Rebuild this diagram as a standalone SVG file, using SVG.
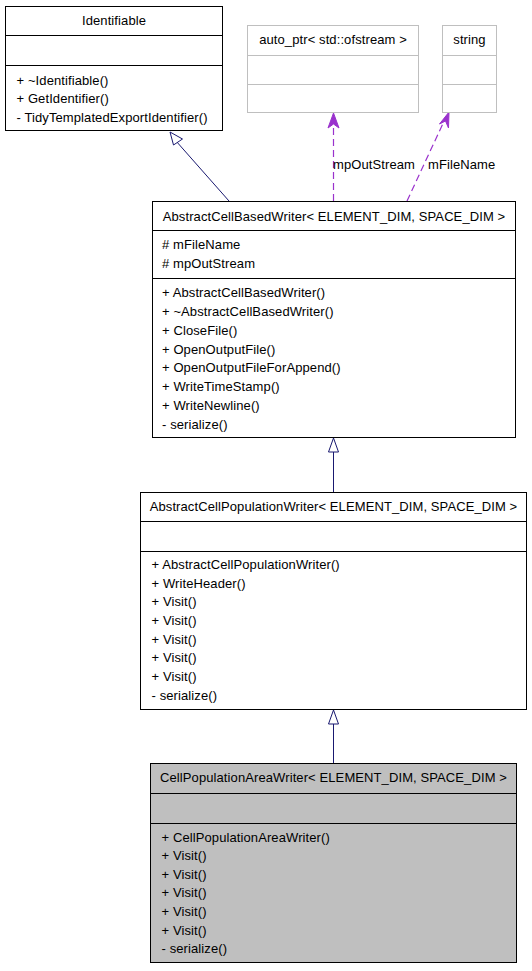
<svg xmlns="http://www.w3.org/2000/svg" width="532" height="971" viewBox="0 0 532 971">
<defs>
<style>
text{font-family:"Liberation Sans",Arial,sans-serif;font-size:13px;letter-spacing:0.1px;fill:#000}
.t{text-anchor:middle}
.box{fill:#fff;stroke:#000;stroke-width:1}
.gbox{fill:#fff;stroke:#bfbfbf;stroke-width:1}
.hbox{fill:#bfbfbf;stroke:#000;stroke-width:1}
.sep{stroke:#000;stroke-width:1}
.gsep{stroke:#bfbfbf;stroke-width:1}
.inh{stroke:#191970;stroke-width:1;fill:none}
.tri{fill:#fff;stroke:#191970;stroke-width:1}
.use{stroke:#9a32cd;stroke-width:1.2;fill:none;stroke-dasharray:7,4}
.vee{fill:#9a32cd;stroke:#9a32cd;stroke-width:1}
</style>
</defs>
<rect width="532" height="971" fill="#fff"/>
<g id="connectors">
<line class="inh" x1="229" y1="201" x2="176" y2="141"/>
<polygon class="tri" points="170,132 173.5,145 182.5,139"/>
<line class="use" x1="333.5" y1="201" x2="333.5" y2="118"/>
<path class="vee" d="M333.5,113 L339,128 L333.5,124 L328,128 Z"/>
<text x="333" y="169">mpOutStream</text>
<line class="use" x1="407" y1="201" x2="446" y2="117"/>
<path class="vee" d="M449,112 L448.5,128 L445.5,121 L439.5,124 Z"/>
<text x="428" y="169">mFileName</text>
<line class="inh" x1="333.5" y1="492" x2="333.5" y2="452"/>
<polygon class="tri" points="333.5,438 328.5,452 338.5,452"/>
<line class="inh" x1="333.5" y1="763" x2="333.5" y2="724"/>
<polygon class="tri" points="333.5,710 328.5,724 338.5,724"/>
</g>
<g id="Identifiable">
<rect class="box" x="5.5" y="6.5" width="217" height="124"/>
<line class="sep" x1="5.5" y1="35.5" x2="222.5" y2="35.5"/>
<line class="sep" x1="5.5" y1="65.5" x2="222.5" y2="65.5"/>
<text class="t" x="114" y="25">Identifiable</text>
<text x="16.5" y="85">+ ~Identifiable()</text>
<text x="16.5" y="103">+ GetIdentifier()</text>
<text x="16.5" y="122">- TidyTemplatedExportIdentifier()</text>
</g>
<g id="auto_ptr">
<rect class="gbox" x="247.5" y="25.5" width="171" height="87"/>
<line class="gsep" x1="247.5" y1="55.5" x2="418.5" y2="55.5"/>
<line class="gsep" x1="247.5" y1="84.5" x2="418.5" y2="84.5"/>
<text class="t" x="333" y="44">auto_ptr&lt; std::ofstream &gt;</text>
</g>
<g id="string">
<rect class="gbox" x="442.5" y="25.5" width="54" height="87"/>
<line class="gsep" x1="442.5" y1="55.5" x2="496.5" y2="55.5"/>
<line class="gsep" x1="442.5" y1="84.5" x2="496.5" y2="84.5"/>
<text class="t" x="469.5" y="44">string</text>
</g>
<g id="AbstractCellBasedWriter">
<rect class="box" x="152.5" y="201.5" width="363" height="236"/>
<line class="sep" x1="152.5" y1="230.5" x2="515.5" y2="230.5"/>
<line class="sep" x1="152.5" y1="278.5" x2="515.5" y2="278.5"/>
<text class="t" x="334" y="220.5">AbstractCellBasedWriter&lt; ELEMENT_DIM, SPACE_DIM &gt;</text>
<text x="162" y="249">#  mFileName</text>
<text x="162" y="267.5">#  mpOutStream</text>
<text x="162" y="297">+ AbstractCellBasedWriter()</text>
<text x="162" y="315.5">+ ~AbstractCellBasedWriter()</text>
<text x="162" y="334.5">+ CloseFile()</text>
<text x="162" y="353.5">+ OpenOutputFile()</text>
<text x="162" y="372">+ OpenOutputFileForAppend()</text>
<text x="162" y="391">+ WriteTimeStamp()</text>
<text x="162" y="409.5">+ WriteNewline()</text>
<text x="162" y="428.5">- serialize()</text>
</g>
<g id="AbstractCellPopulationWriter">
<rect class="box" x="140.5" y="492.5" width="386" height="217"/>
<line class="sep" x1="140.5" y1="521.5" x2="526.5" y2="521.5"/>
<line class="sep" x1="140.5" y1="551.5" x2="526.5" y2="551.5"/>
<text class="t" x="333.5" y="510.5">AbstractCellPopulationWriter&lt; ELEMENT_DIM, SPACE_DIM &gt;</text>
<text x="151.5" y="568.5">+ AbstractCellPopulationWriter()</text>
<text x="151.5" y="587.5">+ WriteHeader()</text>
<text x="151.5" y="606">+ Visit()</text>
<text x="151.5" y="625">+ Visit()</text>
<text x="151.5" y="643.5">+ Visit()</text>
<text x="151.5" y="662">+ Visit()</text>
<text x="151.5" y="681">+ Visit()</text>
<text x="151.5" y="699.5">- serialize()</text>
</g>
<g id="CellPopulationAreaWriter">
<rect class="hbox" x="150.5" y="763.5" width="366" height="199"/>
<line class="sep" x1="150.5" y1="793.5" x2="516.5" y2="793.5"/>
<line class="sep" x1="150.5" y1="823.5" x2="516.5" y2="823.5"/>
<text class="t" x="333.5" y="782">CellPopulationAreaWriter&lt; ELEMENT_DIM, SPACE_DIM &gt;</text>
<text x="161.5" y="841.5">+ CellPopulationAreaWriter()</text>
<text x="161.5" y="860">+ Visit()</text>
<text x="161.5" y="878.5">+ Visit()</text>
<text x="161.5" y="897">+ Visit()</text>
<text x="161.5" y="916">+ Visit()</text>
<text x="161.5" y="934.5">+ Visit()</text>
<text x="161.5" y="953">- serialize()</text>
</g>
</svg>
